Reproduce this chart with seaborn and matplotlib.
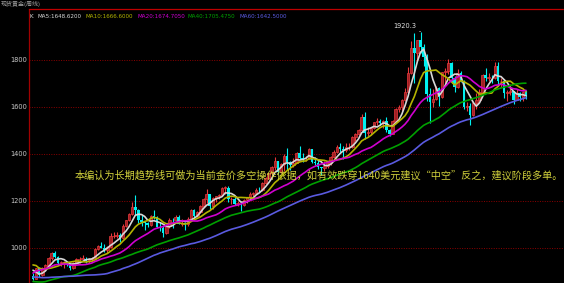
import numpy as np
import pandas as pd
import matplotlib
matplotlib.use("Agg")
import matplotlib.pyplot as plt
import seaborn as sns

# ---------------- data (weekly gold) ----------------
prior_closes = [
    905, 945, 1000, 920, 935, 905, 925, 915, 885, 855, 885, 895, 925, 885, 900,
    870, 905, 930, 930, 960, 955, 925, 910, 865, 785, 830, 833, 800, 760, 865,
    880, 830, 860, 785, 735, 720, 735, 740, 790, 815, 750, 825, 835, 870, 878,
    855, 840, 895, 928, 912, 940, 1000, 942, 940, 930, 955, 925, 897, 882,
]

closes = [
    868, 913, 886, 915, 929, 958, 979, 962, 937, 937,
    940, 931, 913, 937, 952, 954, 955, 948, 953, 956,
    995, 1007, 1002, 991, 1004, 1050, 1051, 1056, 1041, 1095,
    1118, 1145, 1176, 1162, 1118, 1111, 1105, 1096, 1138, 1131,
    1091, 1083, 1064, 1093, 1119, 1118, 1133, 1103, 1107, 1103,
    1125, 1161, 1137, 1155, 1180, 1209, 1228, 1177, 1213, 1220,
    1227, 1256, 1257, 1209, 1210, 1189, 1189, 1182, 1204, 1215,
    1228, 1236, 1248, 1246, 1275, 1297, 1318, 1345, 1370, 1325,
    1358, 1393, 1367, 1353, 1362, 1405, 1384, 1378, 1380, 1421,
    1368, 1361, 1343, 1340, 1348, 1360, 1388, 1409, 1429, 1420,
    1418, 1428, 1429, 1474, 1486, 1504, 1556, 1491, 1493, 1512,
    1536, 1542, 1531, 1539, 1502, 1486, 1542, 1592, 1602, 1628,
    1663, 1745, 1852, 1828, 1883, 1856, 1813, 1657, 1623, 1636,
    1682, 1642, 1747, 1755, 1788, 1724, 1685, 1746, 1711, 1598,
    1606, 1566, 1617, 1630, 1665, 1737, 1725, 1725, 1724, 1775,
    1710, 1712, 1659, 1662, 1668, 1631, 1659, 1642, 1663, 1645,
]

highs = [
    895, 915, 918, 921, 933, 960, 985, 989, 965, 945,
    946, 945, 935, 940, 958, 960, 972, 960, 958, 960,
    1000, 1011, 1024, 1015, 1010, 1062, 1070, 1066, 1064, 1102,
    1120, 1150, 1195, 1226, 1165, 1140, 1114, 1110, 1140, 1160,
    1135, 1110, 1092, 1096, 1126, 1127, 1140, 1142, 1125, 1110,
    1130, 1167, 1168, 1158, 1183, 1211, 1249, 1231, 1216, 1222,
    1231, 1260, 1265, 1262, 1215, 1215, 1201, 1194, 1210, 1216,
    1238, 1240, 1254, 1258, 1282, 1300, 1320, 1349, 1387, 1372,
    1362, 1398, 1424, 1370, 1381, 1410, 1432, 1406, 1390, 1424,
    1423, 1387, 1375, 1346, 1370, 1372, 1391, 1419, 1440, 1445,
    1436, 1448, 1447, 1476, 1490, 1508, 1569, 1577, 1515, 1514,
    1538, 1553, 1549, 1546, 1556, 1505, 1545, 1595, 1610, 1632,
    1681, 1770, 1880, 1913, 1886, 1920.3, 1869, 1826, 1680, 1678,
    1688, 1686, 1750, 1767, 1803, 1792, 1730, 1763, 1753, 1716,
    1621, 1617, 1625, 1660, 1675, 1740, 1764, 1745, 1738, 1791,
    1792, 1725, 1718, 1674, 1697, 1670, 1676, 1663, 1668, 1671,
]

lows = [
    865, 866, 878, 880, 908, 925, 950, 957, 928, 925,
    915, 925, 905, 910, 930, 935, 948, 937, 934, 940,
    952, 990, 998, 985, 980, 1000, 1042, 1044, 1025, 1040,
    1090, 1113, 1140, 1140, 1105, 1095, 1075, 1090, 1094, 1124,
    1085, 1073, 1045, 1058, 1085, 1086, 1115, 1100, 1095, 1075,
    1095, 1122, 1127, 1131, 1150, 1175, 1192, 1165, 1167, 1195,
    1210, 1220, 1230, 1197, 1187, 1183, 1177, 1157, 1178, 1192,
    1210, 1220, 1233, 1240, 1242, 1272, 1294, 1310, 1331, 1315,
    1318, 1329, 1330, 1331, 1345, 1360, 1378, 1365, 1370, 1378,
    1363, 1355, 1335, 1310, 1326, 1340, 1355, 1383, 1405, 1410,
    1380, 1410, 1416, 1427, 1456, 1480, 1500, 1462, 1478, 1480,
    1505, 1522, 1522, 1510, 1495, 1478, 1483, 1530, 1580, 1583,
    1627, 1660, 1740, 1702, 1797, 1830, 1775, 1627, 1532, 1600,
    1630, 1603, 1638, 1690, 1740, 1704, 1662, 1680, 1705, 1590,
    1585, 1523, 1563, 1590, 1628, 1660, 1710, 1710, 1703, 1720,
    1688, 1685, 1640, 1627, 1650, 1612, 1628, 1625, 1627, 1632,
]

ma_windows = [5, 10, 20, 40, 60]
ma_colors = ["#d8d8d8", "#b4b400", "#d000d0", "#00a000", "#5a5ae0"]
ma_labels = ["MA5:1648.6200", "MA10:1666.6000", "MA20:1674.7050",
             "MA40:1705.4750", "MA60:1642.5000"]
yticks = [1000, 1200, 1400, 1600, 1800]
peak_label = "1920.3"
title_text = "现货黄金(周线)"
note = "本编认为长期趋势线可做为当前金价多空操作依据，如有效跌穿1640美元建议“中空”反之，建议阶段多单。"

# ---------------- style ----------------
sns.set_theme(style="dark")
plt.rcParams["font.family"] = ["Noto Sans CJK SC", "DejaVu Sans"]

W, H = 564, 283
fig = plt.figure(figsize=(W / 100, H / 100), dpi=100, facecolor="black")
ax = fig.add_axes([29 / W, 0, (W - 29) / W, (H - 9) / H])
ax.set_facecolor("black")

n = len(closes)
idx = np.arange(n)
opens = [prior_closes[-1]] + closes[:-1]
o = np.array(opens, float)
c = np.array(closes, float)
hi = np.array(highs, float)
lo = np.array(lows, float)
up = c >= o

up_col = "#e8383c"
dn_col = "#00f0f0"
cols = np.where(up, up_col, dn_col)

ax.vlines(idx, lo, hi, colors=cols, linewidth=0.8, zorder=2)
body_h = np.maximum(np.abs(c - o), 1.5)
ax.bar(idx[up], body_h[up], bottom=np.minimum(o, c)[up], width=0.8,
       facecolor="#a02024", edgecolor=up_col, linewidth=0.5, zorder=3)
ax.bar(idx[~up], body_h[~up], bottom=np.minimum(o, c)[~up], width=0.8,
       color=dn_col, linewidth=0, zorder=3)

all_close = pd.Series(prior_closes + closes, dtype=float)
npri = len(prior_closes)
for w, col in zip(ma_windows, ma_colors):
    ma = all_close.rolling(w).mean().iloc[npri:].to_numpy()
    sns.lineplot(x=idx, y=ma, ax=ax, color=col, linewidth=1.2, zorder=4)

# axes
px = 3.1
x0 = -(33 - 29) / px
ax.set_xlim(x0, x0 + (W - 29) / px)
ax.set_ylim(851, 2017)
ax.set_xticks([])
ax.set_yticks(yticks)
ax.set_yticklabels([str(v) for v in yticks], fontsize=4.8, color="#c8c8c8",
                   family="DejaVu Sans")
ax.tick_params(axis="y", length=0, pad=1.5)
ax.grid(False)
for v in yticks:
    ax.axhline(v, color="#8c0000", linewidth=0.7, linestyle=(0, (1, 1.5)), zorder=1)
for s in ["right", "bottom"]:
    ax.spines[s].set_visible(False)
ax.spines["left"].set_color("#a00000")
ax.spines["left"].set_linewidth(0.9)
ax.spines["left"].set_linestyle((0, (1, 1)))
ax.spines["top"].set_color("#c00000")
ax.spines["top"].set_linewidth(0.9)
ax.spines["top"].set_linestyle((0, (1, 1)))

# peak label
pk = int(np.argmax(hi))
ax.annotate(peak_label, xy=(pk, hi[pk]), xytext=(-3, 2), textcoords="offset points",
            ha="right", va="bottom", fontsize=4.8, color="#e0e0e0",
            family="DejaVu Sans",
            arrowprops=dict(arrowstyle="-", color="#e0e0e0", lw=0.5,
                            shrinkA=0, shrinkB=0))

# header texts
fig.text(1 / W, 1 - 4 / H, title_text, fontsize=4.3, color="#a0a0a0",
         va="center", ha="left")
fig.text(30 / W, 1 - 16 / H, "K", fontsize=4.1, color="#e0e0e0",
         va="center", ha="left", family="DejaVu Sans")
for xp, lab, col in zip([38, 86, 137, 188, 240], ma_labels, ma_colors):
    fig.text(xp / W, 1 - 16 / H, lab, fontsize=4.1, color=col,
             va="center", ha="left", family="DejaVu Sans")

# note
fig.text(75 / W, 1 - 176 / H, note, fontsize=7.3, color="#d2d23c",
         va="center", ha="left", zorder=10)

fig.savefig("out.png", dpi=100, facecolor="black")
